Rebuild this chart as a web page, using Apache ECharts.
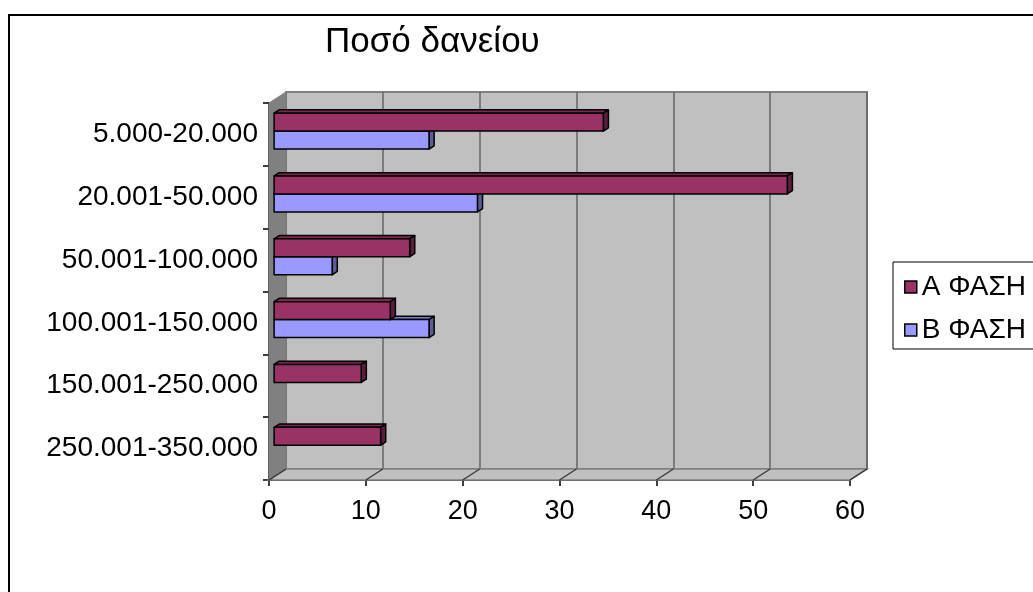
<!DOCTYPE html>
<html>
<head>
<meta charset="utf-8">
<title>Ποσό δανείου</title>
<script src="https://cdn.jsdelivr.net/npm/echarts@6/dist/echarts.min.js"></script>
<style>
  html, body { margin: 0; padding: 0; background: #fff; }
  #chart { width: 1033px; height: 592px; }
</style>
</head>
<body>
<div id="chart"></div>
<script>
// Loan amount bands (top to bottom) and counts per phase
const categories = ['5.000-20.000', '20.001-50.000', '50.001-100.000', '100.001-150.000', '150.001-250.000', '250.001-350.000'];
const phaseA = [34, 53, 14, 12, 9, 11];
const phaseB = [16, 21, 6, 16, 0, 0];
const seriesNames = ['Α ΦΑΣΗ', 'Β ΦΑΣΗ'];
const valueTicks = [0, 10, 20, 30, 40, 50, 60];

// Layout of the pseudo-3D box
const FONT = '"Liberation Sans", Arial, sans-serif';
const FRONT = { left: 269, top: 103, width: 581, height: 377 };
const DEPTH = { dx: 17, dy: -11 };      // front plane -> back wall
const BAR_SHIFT = 0.3;                   // bars sit 30% into the depth
const BAR_DEPTH = 0.3;                   // bar thickness in depth units
const BAR_RATIO = 0.286;                 // bar height / category band
const LABEL_SIZE = 28;

const COLORS = {
  A: { front: '#993366', top: '#7a2952', side: '#5a1e3c' },
  B: { front: '#9999ff', top: '#7a7acc', side: '#5c5c99' }
};

// walls and floor of the box, drawn from the front grid rectangle
function renderWalls(params, api) {
  const cs = params.coordSys;
  const x0 = cs.x, x1 = cs.x + cs.width;
  const yt = cs.y, yb = cs.y + cs.height;
  const dx = DEPTH.dx, dy = DEPTH.dy;
  const children = [
    { type: 'polygon', shape: { points: [[x0, yt], [x0 + dx, yt + dy], [x0 + dx, yb + dy], [x0, yb]] },
      style: { fill: '#808080', stroke: '#808080', lineWidth: 1 } },
    { type: 'polygon', shape: { points: [[x0, yb], [x0 + dx, yb + dy], [x1 + dx, yb + dy], [x1, yb]] },
      style: { fill: '#c0c0c0', stroke: '#808080', lineWidth: 1.5 } }
  ];
  valueTicks.forEach(function (t) {
    const px = api.coord([t, 0])[0];
    children.push({ type: 'line', shape: { x1: px, y1: yb, x2: px + dx, y2: yb + dy },
      style: { stroke: '#333', lineWidth: 1.2 } });
  });
  return { type: 'group', children: children };
}

function makeBarRenderer(slot, pal) {
  return function (params, api) {
    const v = api.value(0), i = api.value(1);
    if (!v) return null;
    const base = api.coord([0, i]);
    const end = api.coord([v, i]);
    const band = api.size([0, 1])[1];
    const h = band * BAR_RATIO;
    const ox = DEPTH.dx * BAR_SHIFT, oy = DEPTH.dy * BAR_SHIFT;
    const bx = DEPTH.dx * BAR_DEPTH, by = DEPTH.dy * BAR_DEPTH;
    const x0 = base[0] + ox, x1 = end[0] + ox;
    const yTop = base[1] + oy - h + slot * h;
    const yBot = yTop + h;
    const edge = { stroke: '#000', lineWidth: 1.5, lineJoin: 'round' };
    return {
      type: 'group',
      children: [
        { type: 'polygon', shape: { points: [[x0, yTop], [x0 + bx, yTop + by], [x1 + bx, yTop + by], [x1, yTop]] },
          style: Object.assign({ fill: pal.top }, edge) },
        { type: 'polygon', shape: { points: [[x1, yTop], [x1 + bx, yTop + by], [x1 + bx, yBot + by], [x1, yBot]] },
          style: Object.assign({ fill: pal.side }, edge) },
        { type: 'rect', shape: { x: x0, y: yTop, width: x1 - x0, height: h },
          style: Object.assign({ fill: pal.front }, edge) }
      ]
    };
  };
}

const chart = echarts.init(document.getElementById('chart'), null, { renderer: 'canvas' });

const option = {
  backgroundColor: '#ffffff',
  animation: false,
  textStyle: { fontFamily: FONT },
  title: {
    text: 'Ποσό δανείου',
    left: 320, top: 20,
    textStyle: { fontFamily: FONT, fontSize: 35, fontWeight: 'normal', color: '#000' }
  },
  legend: {
    orient: 'vertical',
    left: 893, top: 262,
    padding: [11, 14, 5, 11],
    itemGap: 15,
    itemWidth: 12, itemHeight: 12,
    borderColor: '#000', borderWidth: 1,
    textStyle: { fontFamily: FONT, fontSize: LABEL_SIZE, color: '#000' },
    data: [
      { name: seriesNames[0], icon: 'rect', itemStyle: { color: COLORS.A.front, borderColor: '#000', borderWidth: 1.5 } },
      { name: seriesNames[1], icon: 'rect', itemStyle: { color: COLORS.B.front, borderColor: '#000', borderWidth: 1.5 } }
    ]
  },
  graphic: [
    { type: 'rect', silent: true, z: -1,
      shape: { x: 9, y: 15, width: 1200, height: 800 },
      style: { fill: 'none', stroke: '#000', lineWidth: 2 } }
  ],
  grid: [
    { left: FRONT.left, top: FRONT.top, width: FRONT.width, height: FRONT.height, containLabel: false },
    { left: FRONT.left + DEPTH.dx, top: FRONT.top + DEPTH.dy, width: FRONT.width, height: FRONT.height,
      show: true, backgroundColor: '#c0c0c0', borderColor: '#808080', borderWidth: 2, z: -2 }
  ],
  xAxis: [
    { type: 'value', gridIndex: 0, min: 0, max: 60, interval: 10,
      axisLine: { show: true, lineStyle: { color: '#000', width: 1.5 } },
      axisTick: { show: true, length: 6, lineStyle: { color: '#000', width: 1.5 } },
      splitLine: { show: false },
      axisLabel: { fontFamily: FONT, fontSize: LABEL_SIZE - 1, color: '#000', margin: 18 } },
    { type: 'value', gridIndex: 1, min: 0, max: 60, interval: 10,
      axisLine: { show: false }, axisTick: { show: false }, axisLabel: { show: false },
      splitLine: { show: true, lineStyle: { color: '#666', width: 1.5 } } }
  ],
  yAxis: [
    { type: 'category', gridIndex: 0, data: categories, inverse: true,
      axisLine: { show: true, lineStyle: { color: '#000', width: 1.5 } },
      axisTick: { show: true, length: 6, lineStyle: { color: '#000', width: 1.5 } },
      axisLabel: { fontFamily: FONT, fontSize: LABEL_SIZE, color: '#000', margin: 11 } },
    { type: 'category', gridIndex: 1, data: categories, inverse: true, show: false }
  ],
  series: [
    { name: seriesNames[0], type: 'custom', xAxisIndex: 0, yAxisIndex: 0, z: 4,
      itemStyle: { color: COLORS.A.front },
      encode: { x: 0, y: 1 },
      data: phaseA.map(function (v, i) { return [v, i]; }),
      renderItem: makeBarRenderer(0, COLORS.A) },
    { name: seriesNames[1], type: 'custom', xAxisIndex: 0, yAxisIndex: 0, z: 3,
      itemStyle: { color: COLORS.B.front },
      encode: { x: 0, y: 1 },
      data: phaseB.map(function (v, i) { return [v, i]; }),
      renderItem: makeBarRenderer(1, COLORS.B) },
    { name: 'walls', type: 'custom', xAxisIndex: 0, yAxisIndex: 0, z: 1, silent: true,
      encode: { x: 0, y: 1 },
      data: [[0, 0]],
      renderItem: renderWalls }
  ]
};

chart.setOption(option);
</script>
</body>
</html>
